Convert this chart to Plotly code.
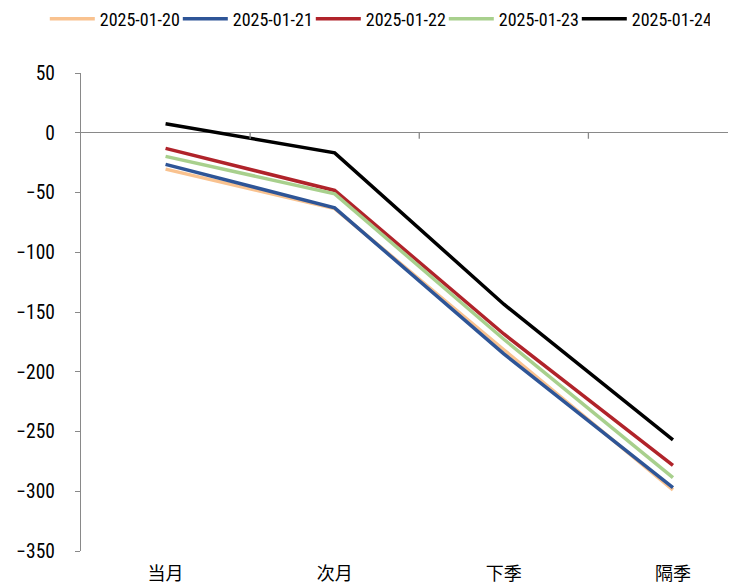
import plotly.graph_objects as go

categories = ["当月", "次月", "下季", "隔季"]
series_names = ["2025-01-20", "2025-01-21", "2025-01-22", "2025-01-23", "2025-01-24"]
s_0120 = [-30.4, -63.5, -181.6, -298.9]
s_0121 = [-26.5, -62.9, -185.1, -296.9]
s_0122 = [-13.1, -48.3, -168.4, -278.3]
s_0123 = [-19.8, -51.1, -172.8, -288.6]
s_0124 = [7.5, -16.8, -143.5, -257.0]
y_ticks = [50, 0, -50, -100, -150, -200, -250, -300, -350]

series_values = [s_0120, s_0121, s_0122, s_0123, s_0124]
colors = ["#F9C28F", "#2E5597", "#B0232A", "#A8D08D", "#000000"]

NUM_FONT = "Roboto Condensed, DejaVu Sans Condensed, sans-serif"
CJK_FONT = "Noto Sans CJK SC, sans-serif"
AXIS_GREY = "#898989"

xs = list(range(len(categories)))
fig = go.Figure()
for name, vals, c in zip(series_names, series_values, colors):
    fig.add_trace(go.Scatter(x=xs, y=vals, name=name, mode="lines",
                             line=dict(color=c, width=3.5)))

# small tick marks on the zero line between categories
for b in [0.5, 1.5, 2.5]:
    fig.add_shape(type="line", xref="x", yref="y", x0=b, x1=b,
                  ysizemode="pixel", yanchor=0, y0=0, y1=-6,
                  line=dict(color=AXIS_GREY, width=1.3))

fig.update_layout(
    width=736, height=587,
    margin=dict(l=73, r=0, t=65, b=44, autoexpand=False),
    paper_bgcolor="white", plot_bgcolor="white",
    showlegend=True,
    legend=dict(orientation="h", xref="container", yref="container",
                x=0.05, y=0.981, xanchor="left", yanchor="middle",
                itemwidth=45, entrywidth=73, entrywidthmode="pixels",
                font=dict(family=NUM_FONT, size=18, color="#000000"),
                traceorder="normal"),
    xaxis=dict(range=[-0.5, 3.42], tickmode="array", tickvals=xs, ticktext=categories,
               showline=False, showgrid=False, zeroline=False, ticks="",
               ticklabelstandoff=10,
               tickfont=dict(family=CJK_FONT, size=18, color="#000000")),
    yaxis=dict(range=[-350, 50], tickmode="array", tickvals=y_ticks,
               showline=True, linecolor=AXIS_GREY, linewidth=1.3,
               ticks="outside", ticklen=5, tickcolor=AXIS_GREY, tickwidth=1.3,
               showgrid=False, zeroline=True, zerolinecolor=AXIS_GREY, zerolinewidth=1.3,
               ticklabelstandoff=16,
               tickfont=dict(family=NUM_FONT, size=19.5, color="#000000")),
)

fig.write_html("out.html")
